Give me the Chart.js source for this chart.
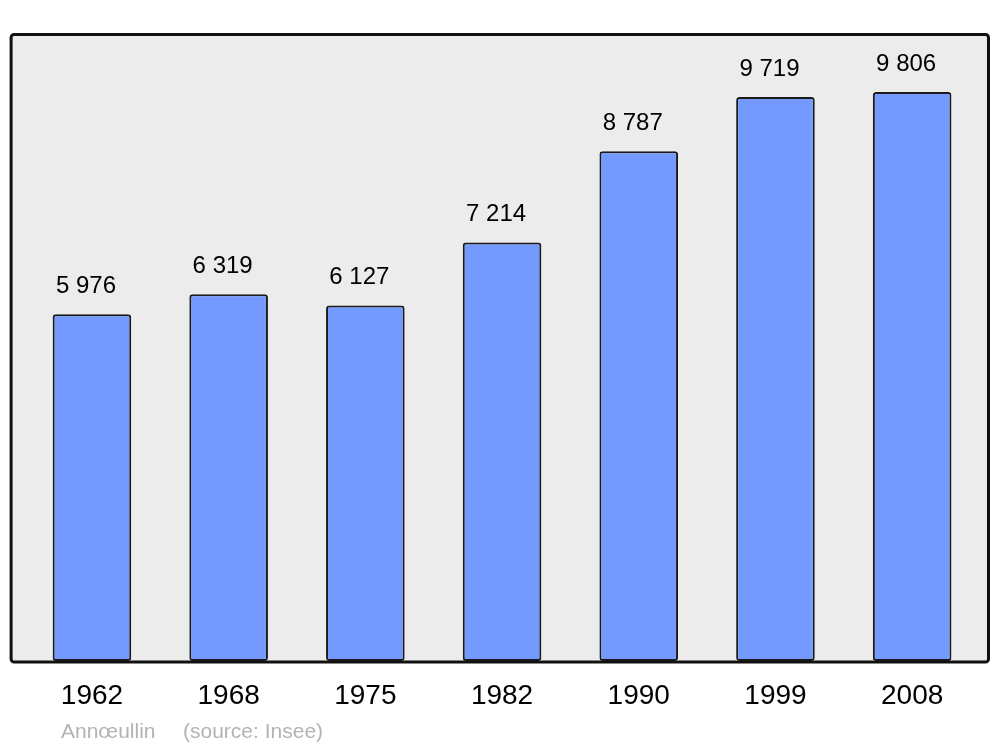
<!DOCTYPE html>
<html>
<head>
<meta charset="utf-8">
<script src="https://cdn.jsdelivr.net/npm/chart.js@4.4.0/dist/chart.umd.min.js"></script>
<style>
  html, body { margin: 0; padding: 0; background: #fff; }
  #wrap { width: 1000px; height: 747px; }
</style>
</head>
<body>
<div id="wrap"><canvas id="popChart" width="1000" height="747"></canvas></div>
<script>
// census years and population
const years = ['1962', '1968', '1975', '1982', '1990', '1999', '2008'];
const population = [5976, 6319, 6127, 7214, 8787, 9719, 9806];
const valueLabels = ['5 976', '6 319', '6 127', '7 214', '8 787', '9 719', '9 806'];
const yMax = 10806;
const footerName = 'Annœullin';
const footerSource = '(source: Insee)';

const FONT = '"Liberation Sans", Arial, sans-serif';

// grey panel with black rounded frame behind the bars
const framePlugin = {
  id: 'frame',
  beforeDatasetsDraw(chart) {
    const { ctx, chartArea: a } = chart;
    ctx.save();
    ctx.beginPath();
    ctx.roundRect(a.left - 12.5, a.top + 0.5, a.right - a.left + 20.5, a.bottom - a.top + 0.5, 3);
    ctx.fillStyle = '#ececec';
    ctx.fill();
    ctx.restore();
  },
  afterDatasetsDraw(chart) {
    const { ctx, chartArea: a } = chart;
    ctx.save();
    ctx.beginPath();
    ctx.roundRect(a.left - 12.5, a.top + 0.5, a.right - a.left + 20.5, a.bottom - a.top + 0.5, 3);
    ctx.lineWidth = 3;
    ctx.strokeStyle = '#111';
    ctx.stroke();

    // value labels above each bar
    const meta = chart.getDatasetMeta(0);
    ctx.fillStyle = '#000';
    ctx.font = '24px ' + FONT;
    ctx.textAlign = 'center';
    ctx.textBaseline = 'middle';
    meta.data.forEach((bar, i) => {
      ctx.fillText(valueLabels[i], bar.x - 6, bar.y - 28);
    });

    // footer
    ctx.fillStyle = '#b3b3b3';
    ctx.font = '21px ' + FONT;
    ctx.textAlign = 'left';
    ctx.textBaseline = 'alphabetic';
    ctx.fillText(footerName, 61, 738);
    ctx.fillText(footerSource, 183, 738);
    ctx.restore();
  }
};

new Chart(document.getElementById('popChart').getContext('2d'), {
  type: 'bar',
  data: {
    labels: years,
    datasets: [{
      data: population,
      backgroundColor: '#7499ff',
      borderColor: '#1a1a1a',
      borderWidth: 2,
      borderRadius: 3,
      borderSkipped: false,
      barPercentage: 0.575,
      categoryPercentage: 1
    }]
  },
  options: {
    responsive: false,
    animation: false,
    layout: { padding: { left: 23.6, right: 19.5, top: 34, bottom: 24.4 } },
    plugins: {
      legend: { display: false },
      tooltip: { enabled: false }
    },
    scales: {
      x: {
        grid: { display: false },
        border: { display: false },
        ticks: { color: '#000', padding: 10, font: { family: FONT, size: 28, lineHeight: 1.2 } }
      },
      y: {
        display: false,
        min: 0,
        max: yMax
      }
    }
  },
  plugins: [framePlugin]
});
</script>
</body>
</html>
